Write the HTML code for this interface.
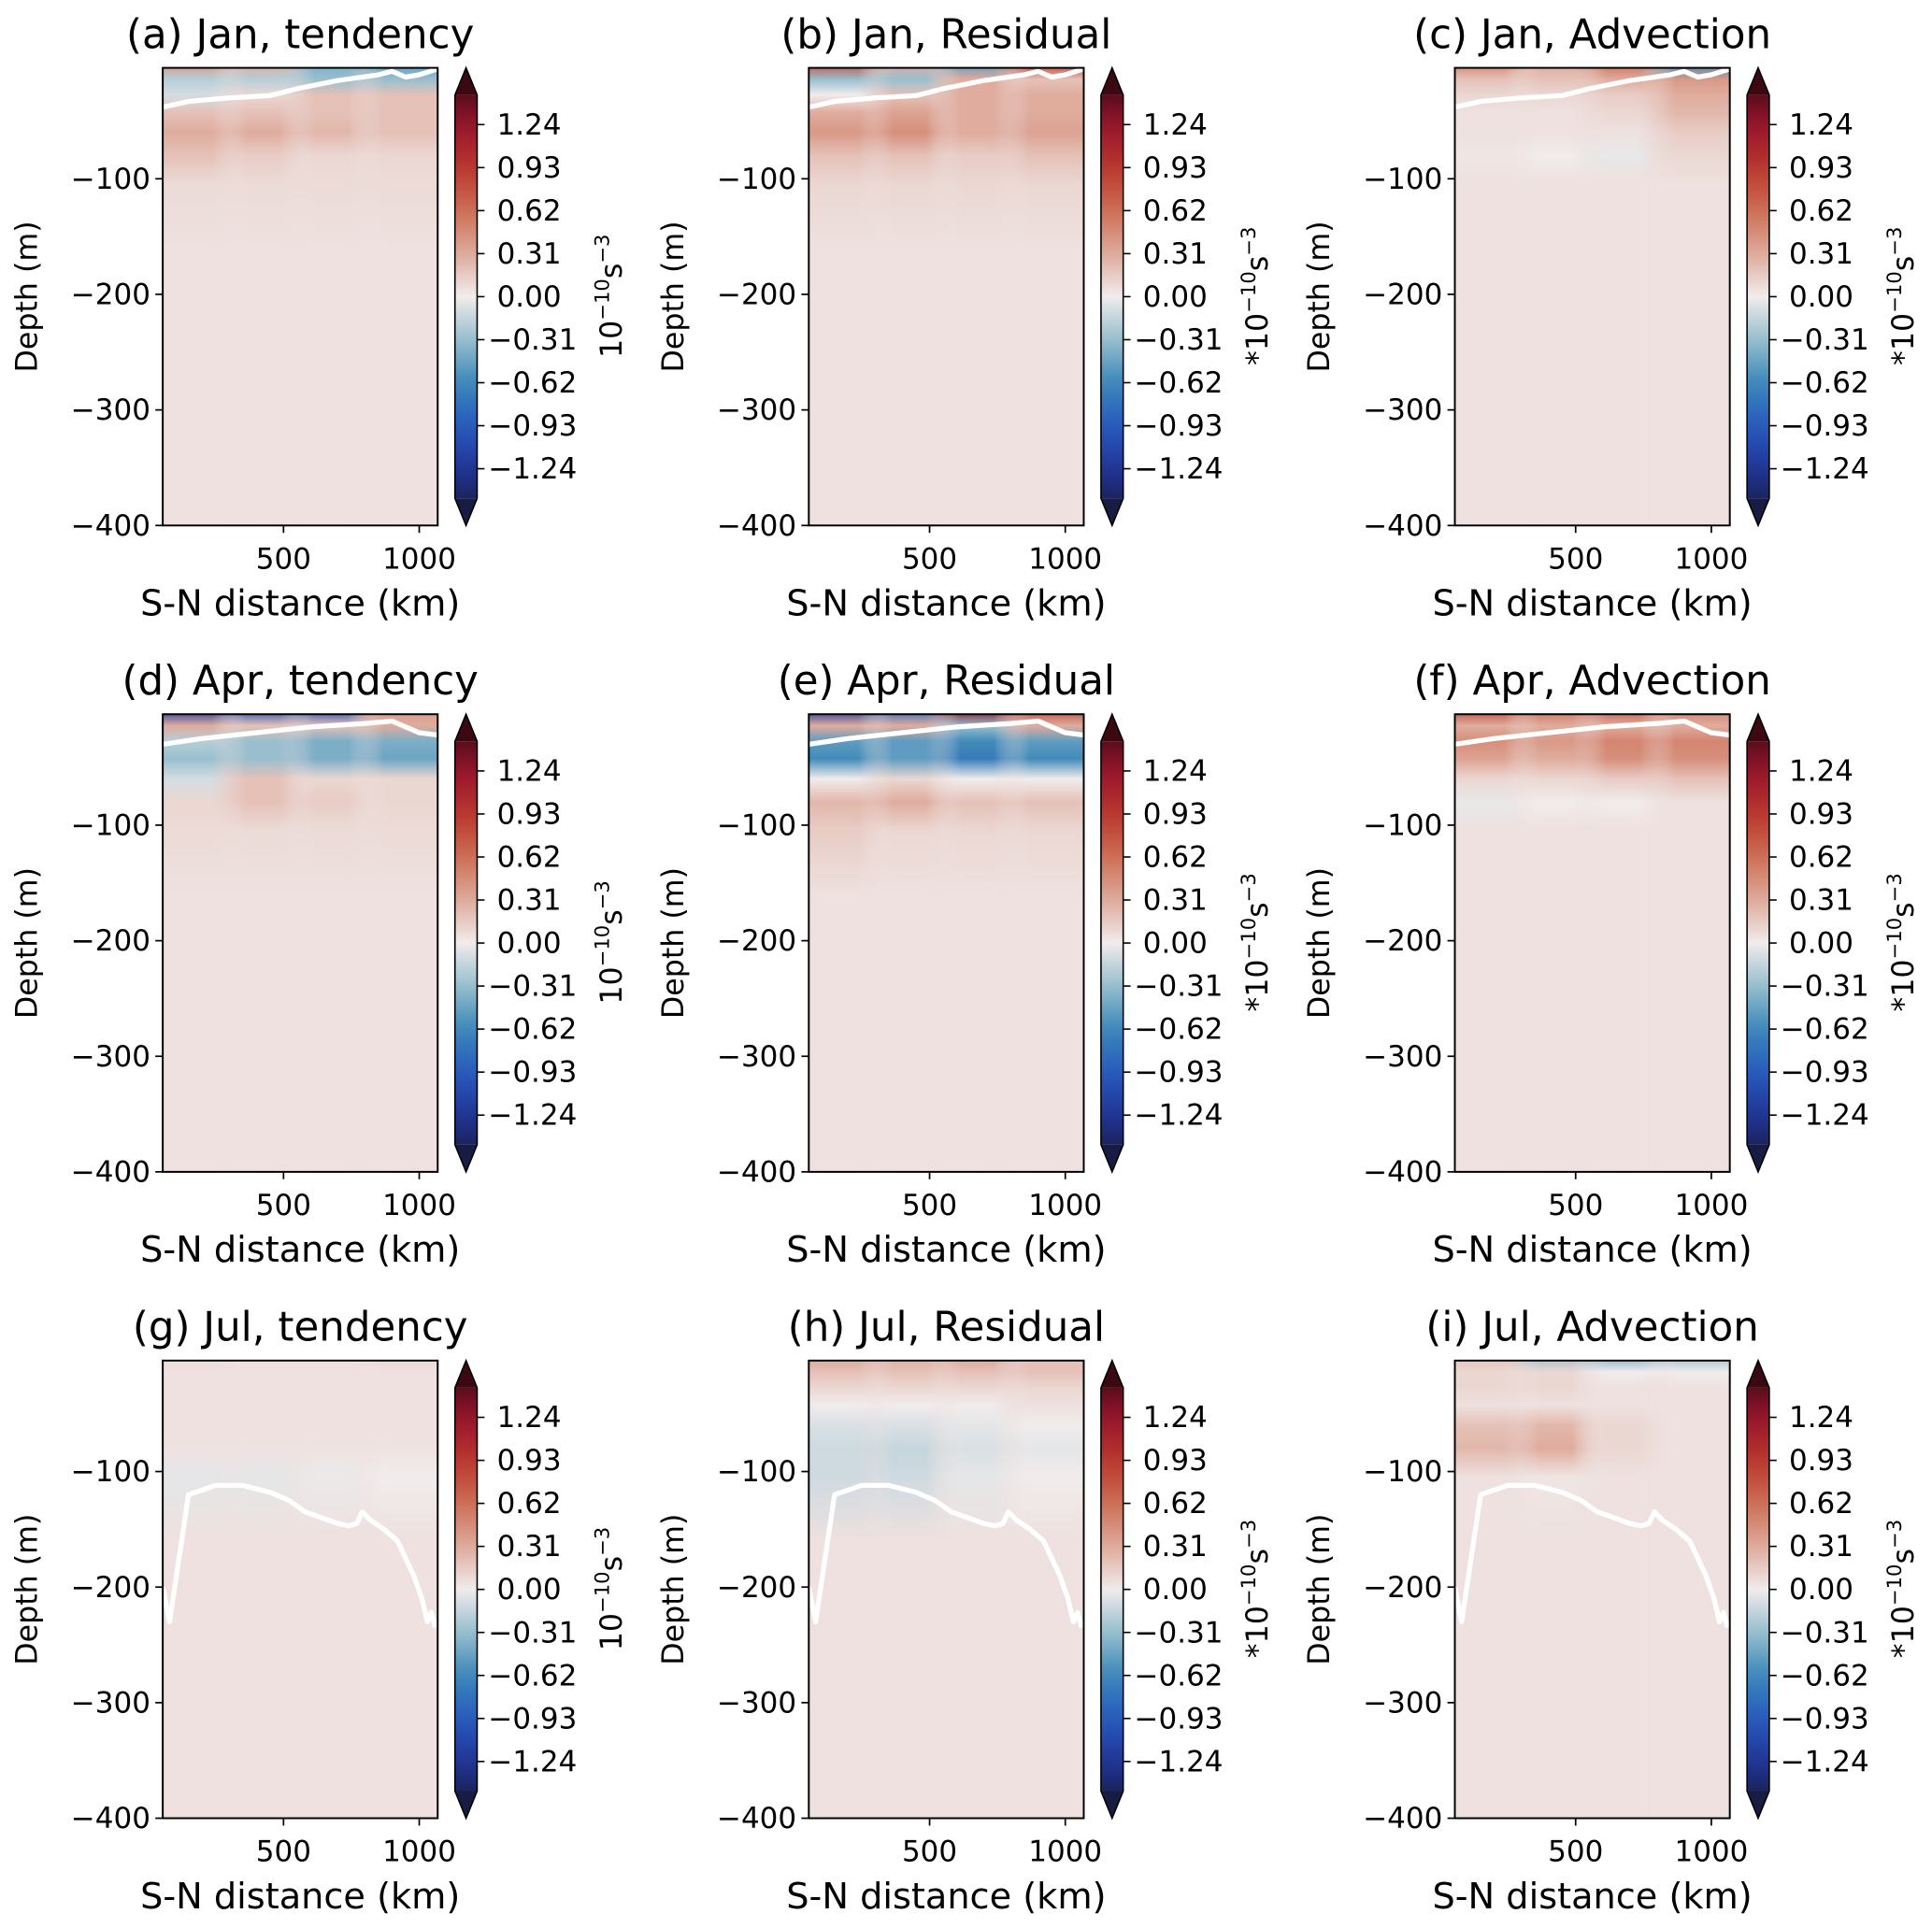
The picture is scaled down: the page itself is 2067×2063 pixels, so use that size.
<!DOCTYPE html>
<html><head><meta charset="utf-8"><style>
html,body{margin:0;padding:0;background:#fff;}
svg{display:block;font-family:"DejaVu Sans","Liberation Sans",sans-serif;}
</style></head><body>
<svg id="fig" width="2067" height="2063" viewBox="0 0 1567 1563" preserveAspectRatio="none" xmlns="http://www.w3.org/2000/svg">
<defs id="defs">
<linearGradient id="cbgrad" x1="0" y1="1" x2="0" y2="0"></linearGradient>
</defs>
</svg>
<script>
// ---- data ----
const titles = ["(a) Jan, tendency","(b) Jan, Residual","(c) Jan, Advection","(d) Apr, tendency","(e) Apr, Residual","(f) Apr, Advection","(g) Jul, tendency","(h) Jul, Residual","(i) Jul, Advection"];
const cbLabelPrefix = ["","*","*"];
const xEdges = [55, 300, 550, 800, 1068];
const depthEdges = [0, -8, -20, -35, -50, -70, -90, -120, -400];
const yTicks = [-100, -200, -300, -400];
const xTicks = [500, 1000];
const cbTicks = [1.24, 0.93, 0.62, 0.31, 0.00, -0.31, -0.62, -0.93, -1.24];
const vA = [[0.4,0.3,-0.4,-0.5],[-0.2,-0.2,-0.3,-0.3],[-0.1,0.1,0.2,0.2],[0.2,0.2,0.2,0.2],[0.3,0.3,0.25,0.2],[0.2,0.15,0.1,0.1],[0.08,0.08,0.08,0.08],[0.05,0.05,0.05,0.05]];
const vB = [[0.8,0.3,-0.5,0.9],[-0.3,-0.3,0.3,0.2],[0,0.2,0.3,0.3],[0.3,0.35,0.3,0.3],[0.4,0.45,0.3,0.35],[0.2,0.2,0.15,0.2],[0.1,0.1,0.1,0.1],[0.05,0.05,0.05,0.05]];
const vC = [[0.5,0.3,0.6,-0.6],[0.2,0.2,0.3,0.4],[0.1,0.1,0.15,0.3],[0.05,0.05,0.1,0.25],[0.05,0.05,0.05,0.15],[0.03,0,-0.03,0.1],[0.05,0.05,0.05,0.05],[0.05,0.05,0.05,0.05]];
const vD = [[-1.2,-1.0,-1.0,0.4],[0.3,0.2,0.2,0.3],[-0.2,-0.3,-0.4,-0.4],[-0.3,-0.3,-0.4,-0.45],[-0.1,0.2,0.1,0.1],[0.1,0.2,0.15,0.1],[0.08,0.08,0.08,0.08],[0.05,0.05,0.05,0.05]];
const vE = [[-1.2,-0.8,1.3,0.8],[0.3,0.3,-0.3,0.3],[-0.5,-0.5,-0.6,-0.5],[-0.6,-0.5,-0.7,-0.6],[0,0.1,0,0],[0.25,0.3,0.2,0.2],[0.15,0.1,0.1,0.1],[0.05,0.05,0.05,0.05]];
const vF = [[0.8,0.6,0.7,0.5],[0.3,0.3,0.3,0.3],[0.45,0.4,0.5,0.5],[0.35,0.3,0.45,0.45],[0.1,0.1,0.15,0.2],[-0.03,0,0,0.05],[0.05,0.05,0.05,0.05],[0.05,0.05,0.05,0.05]];
const vG = [[0.08,0.05,0.05,0.1],[0.05,0.05,0.05,0.05],[0.05,0.05,0.05,0.05],[0.05,0.05,0.05,0.05],[0.05,0.05,0.05,0.05],[0.04,0.04,0.04,0.04],[-0.04,-0.04,-0.02,0],[0.05,0.05,0.05,0.05]];
const vH = [[0.35,0.3,0.35,0.2],[0.2,0.2,0.2,0.2],[0.1,0.1,0.1,0.1],[0,0,0,0.05],[-0.08,-0.08,-0.04,0],[-0.12,-0.15,-0.08,-0.04],[-0.12,-0.12,-0.04,0],[0.05,0.05,0.05,0.05]];
const vI = [[0.2,-0.3,-0.4,-0.3],[0.1,0.1,0,0],[0.1,0.1,0.05,0.05],[0.05,0.05,0.05,0.05],[0.2,0.25,0.1,0.05],[0.25,0.3,0.1,0.05],[0.05,0.03,0.05,0.05],[0.05,0.05,0.05,0.05]];
const fields = [vA,vB,vC,vD,vE,vF,vG,vH,vI];
const janLineX = [55,150,300,450,550,700,850,900,950,1000,1068];
const janLineD = [-38,-33,-30,-28,-22,-15,-10,-7,-12,-10,-5];
const aprLineX = [55,200,400,600,800,900,950,1000,1068];
const aprLineD = [-30,-25,-20,-15,-12,-10,-15,-20,-22];
const julLineX = [55,80,150,250,350,450,520,580,700,740,770,790,820,870,920,980,1010,1030,1045,1060];
const julLineD = [-200,-230,-120,-112,-112,-118,-125,-135,-145,-147,-145,-135,-142,-150,-160,-190,-210,-230,-222,-235];
const lines = [[janLineX,janLineD],[aprLineX,aprLineD],[julLineX,julLineD]];

// ---- layout ----
const colL = [132,656,1180], rowT = [55,579,1103], W = 223, H = 371;
const NS = "http://www.w3.org/2000/svg";
const svg = document.getElementById('fig');
const defs = document.getElementById('defs');
function el(tag, attrs, parent){ const e=document.createElementNS(NS,tag); for(const k in attrs) e.setAttribute(k,attrs[k]); (parent||svg).appendChild(e); return e; }
const xS = (km,c)=> colL[c] + (km-55)/(1068-55)*W;
const yS = (d,r)=> rowT[r] + (-4-d)/396*H;

const cstops = [[-1.55,[24,28,67]],[-1.24,[33,52,150]],[-0.93,[40,90,190]],[-0.62,[60,135,185]],[-0.31,[150,190,205]],[0,[241,236,236]],[0.31,[222,170,155]],[0.62,[205,110,85]],[0.93,[185,55,45]],[1.24,[150,20,45]],[1.55,[60,9,18]]];
function rgb(v){ v=Math.max(-1.55,Math.min(1.55,v)); for(let i=0;i<cstops.length-1;i++){const a=cstops[i],b=cstops[i+1]; if(v<=b[0]){const t=(v-a[0])/(b[0]-a[0]); return a[1].map((x,j)=>x+(b[1][j]-x)*t);}} return [60,9,18]; }
function cmap(v){ const c=rgb(v).map(Math.round); return `rgb(${c[0]},${c[1]},${c[2]})`; }

const grad = document.getElementById('cbgrad');
for(let i=0;i<=20;i++){ const v=-1.45+2.9*i/20; const s=document.createElementNS(NS,'stop'); s.setAttribute('offset',(i/20)); s.setAttribute('stop-color',cmap(v)); grad.appendChild(s); }

for(let p=0;p<9;p++){
  const r=Math.floor(p/3), c=p%3;
  const g=el('g',{});  
  const L=colL[c], T=rowT[r];
  const cp=el('clipPath',{id:'clip'+p},g); el('rect',{x:L,y:T,width:W,height:H},cp);
  const bg=el('rect',{x:L,y:T,width:W,height:H,fill:cmap(0.05)},g);
   
  const hm=el('g',{'clip-path':`url(#clip${p})`},g);
   
  const f=fields[p];
  const nb=depthEdges.length-1, nc=xEdges.length-1;
  // vertical gradient per column, horizontally blended via horizontal alpha masks
  for(let j=0;j<nc;j++){
    const gid=`g${p}_${j}`;
    const lg=el('linearGradient',{id:gid,gradientUnits:'userSpaceOnUse',x1:0,x2:0,y1:yS(0,r),y2:yS(-400,r)},defs);
    for(let i=0;i<nb;i++){
      const dm = i===0 ? depthEdges[0] : (i===nb-1 ? -160 : (depthEdges[i]+depthEdges[i+1])/2);
      el('stop',{offset:((-dm)/400).toFixed(4),'stop-color':cmap(f[i][j])},lg);
    }
    el('stop',{offset:1,'stop-color':cmap(f[nb-1][j])},lg);
    // horizontal feather mask
    const x0=xS(xEdges[j],c), x1=xS(xEdges[j+1],c);
    const cw=x1-x0, fe=cw*0.25;
    const mid='m'+gid;
    const mg=el('linearGradient',{id:mid+'g',gradientUnits:'userSpaceOnUse',x1:x0-fe,x2:x1+fe,y1:0,y2:0},defs);
    const tot=cw+2*fe;
    el('stop',{offset:0,'stop-color':'#fff','stop-opacity':j===0?1:0},mg);
    el('stop',{offset:(2*fe/tot).toFixed(3),'stop-color':'#fff','stop-opacity':1},mg);
    el('stop',{offset:(1-2*fe/tot).toFixed(3),'stop-color':'#fff','stop-opacity':1},mg);
    el('stop',{offset:1,'stop-color':'#fff','stop-opacity':j===nc-1?1:0},mg);
    const mk=el('mask',{id:mid,maskUnits:'userSpaceOnUse',x:x0-fe-2,y:T-5,width:tot+4,height:H+10},defs);
    el('rect',{x:x0-fe,y:T-5,width:tot,height:H+10,fill:`url(#${mid}g)`},mk);
    const rc=el('rect',{x:(j===0?L-5:x0-fe),y:T-2,width:(j===0||j===nc-1)?tot+10:tot,height:H+4,fill:`url(#${gid})`,mask:`url(#${mid})`},hm);
     
  }
  const [lx,ld]=lines[r];
  const pts=lx.map((x,k)=>xS(x,c).toFixed(1)+','+yS(ld[k],r).toFixed(1)).join(' ');
  const pl=el('polyline',{points:pts,fill:'none',stroke:'#fff','stroke-width':4,'stroke-linejoin':'round','clip-path':`url(#clip${p})`},g);
   
  el('rect',{x:L,y:T,width:W,height:H,fill:'none',stroke:'#000','stroke-width':1.5},g);
  const t=el('text',{x:L+W/2,y:T-16,'text-anchor':'middle','font-size':33,fill:'#000'},g); t.textContent=titles[p];
   
  yTicks.forEach(v=>{ const y=yS(v,r); el('line',{x1:L-6,x2:L,y1:y,y2:y,stroke:'#000','stroke-width':1.3},g);
    const tx=el('text',{x:L-10,y:y+8,'text-anchor':'end','font-size':23.5},g); tx.textContent='\u2212'+Math.abs(v);
      });
  xTicks.forEach(v=>{ const x=xS(v,c); el('line',{x1:x,x2:x,y1:T+H,y2:T+H+6,stroke:'#000','stroke-width':1.3},g);
    const tx=el('text',{x:x,y:T+H+35,'text-anchor':'middle','font-size':23.5},g); tx.textContent=v;
      });
  const yl=el('text',{transform:`translate(${L-102},${T+H/2}) rotate(-90)`,'text-anchor':'middle','font-size':24},g); yl.textContent='Depth (m)';
   
  const xl=el('text',{x:L+W/2,y:T+H+73,'text-anchor':'middle','font-size':29},g); xl.textContent='S-N distance (km)';
   
  const cb=el('g',{},g);  
  const cx=L+237, cw=18;
  const top=T+22, bot=T+349;
  el('rect',{x:cx,y:top,width:cw,height:bot-top,fill:'url(#cbgrad)'},cb);
  el('polygon',{points:`${cx},${top} ${cx+cw/2},${T} ${cx+cw},${top}`,fill:cmap(1.55)},cb);
  el('polygon',{points:`${cx},${bot} ${cx+cw/2},${T+H} ${cx+cw},${bot}`,fill:cmap(-1.55)},cb);
  el('polygon',{points:`${cx},${top} ${cx+cw/2},${T} ${cx+cw},${top} ${cx+cw},${bot} ${cx+cw/2},${T+H} ${cx},${bot}`,fill:'none',stroke:'#000','stroke-width':1.2},cb);
  cbTicks.forEach(v=>{ const y=T+185.5 - v*112.5; el('line',{x1:cx+cw,x2:cx+cw+6,y1:y,y2:y,stroke:'#000','stroke-width':1.2},cb);
    const tx=el('text',{x:cx+cw+(v<0?9:16),y:y+8,'font-size':23.5},cb); tx.textContent=(v<0?'\u2212':'')+Math.abs(v).toFixed(2);
      });
  const ul=el('text',{transform:`translate(${cx+(c===0?135:135)},${T+185}) rotate(-90)`,'text-anchor':'middle','font-size':24},cb);
  ul.innerHTML = cbLabelPrefix[c]+'10<tspan dy="-10" font-size="16">\u221210</tspan><tspan dy="10">s</tspan><tspan dy="-10" font-size="16">\u22123</tspan>';
   
}
</script>
</body></html>
